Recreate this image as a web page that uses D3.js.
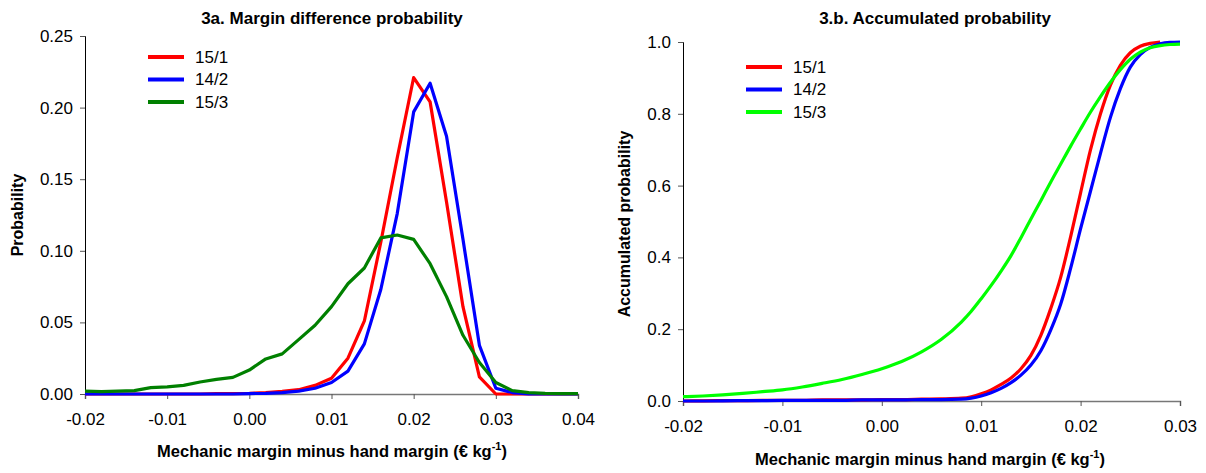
<!DOCTYPE html>
<html>
<head>
<meta charset="utf-8">
<script src="https://cdn.jsdelivr.net/npm/d3@7"></script>
<style>
  body { margin: 0; background: #fff; }
  text { font-family: "Liberation Sans", Arial, sans-serif; fill: #000; }
</style>
</head>
<body>
<div id="plot"></div>
<script>
// series names
var seriesNames = ["15/1", "14/2", "15/3"];

// 3a: probability per margin difference class
var pdfX = [-0.02, -0.018, -0.016, -0.014, -0.012, -0.01, -0.008, -0.006, -0.004, -0.002,
            0, 0.002, 0.004, 0.006, 0.008, 0.01, 0.012, 0.014, 0.016, 0.018,
            0.02, 0.022, 0.024, 0.026, 0.028, 0.03, 0.032, 0.034, 0.036, 0.038, 0.04];
var pdf151 = [0, 0, 0, 0, 0, 0, 0, 0, 0.0003, 0.0003,
              0.0005, 0.001, 0.0018, 0.003, 0.006, 0.011, 0.025, 0.051, 0.106, 0.165,
              0.221, 0.204, 0.134, 0.061, 0.012, 0, 0, 0, 0, 0, 0];
var pdf142 = [0, 0, 0, 0, 0, 0, 0, 0, 0, 0,
              0.0003, 0.0005, 0.001, 0.002, 0.004, 0.008, 0.016, 0.035, 0.073, 0.126,
              0.197, 0.217, 0.18, 0.108, 0.034, 0.004, 0.001, 0, 0, 0, 0];
var pdf153 = [0.002, 0.0017, 0.002, 0.0024, 0.0044, 0.005, 0.006, 0.0084, 0.0102, 0.0116,
              0.0167, 0.0245, 0.028, 0.038, 0.048, 0.061, 0.077, 0.088, 0.109, 0.111,
              0.108, 0.091, 0.068, 0.041, 0.022, 0.008, 0.0024, 0.001, 0.0005, 0.0003, 0.0003];

// 3b: accumulated probability
var cdfX = [-0.02, -0.018, -0.016, -0.014, -0.012, -0.01, -0.008, -0.006, -0.004, -0.002,
            0, 0.002, 0.004, 0.006, 0.008, 0.009, 0.01, 0.011, 0.012, 0.013,
            0.014, 0.015, 0.016, 0.017, 0.018, 0.019, 0.02, 0.021, 0.022, 0.023,
            0.024, 0.025, 0.026, 0.027, 0.028, 0.029, 0.03];
var cdf151 = [0, 0.0005, 0.001, 0.001, 0.0015, 0.002, 0.002, 0.003, 0.003, 0.003,
              0.004, 0.004, 0.005, 0.006, 0.008, 0.012, 0.02, 0.031, 0.046, 0.064,
              0.09, 0.127, 0.183, 0.258, 0.345, 0.458, 0.58, 0.7, 0.8, 0.88,
              0.935, 0.97, 0.988, 0.996, 1.0, null, null];
var cdf142 = [0, 0, 0.0005, 0.001, 0.001, 0.0015, 0.002, 0.002, 0.002, 0.003,
              0.003, 0.003, 0.004, 0.004, 0.005, 0.008, 0.014, 0.023, 0.035, 0.051,
              0.072, 0.1, 0.14, 0.198, 0.27, 0.37, 0.48, 0.585, 0.69, 0.79,
              0.87, 0.93, 0.965, 0.985, 0.995, 0.999, 1.0];
var cdf153 = [0.012, 0.014, 0.017, 0.021, 0.026, 0.031, 0.039, 0.049, 0.06, 0.074,
              0.09, 0.11, 0.137, 0.172, 0.22, 0.25, 0.285, 0.322, 0.362, 0.405,
              0.455, 0.507, 0.558, 0.61, 0.66, 0.71, 0.758, 0.805, 0.848, 0.888,
              0.923, 0.952, 0.972, 0.984, 0.99, 0.993, 0.994];

var xTicksA = [-0.02, -0.01, 0, 0.01, 0.02, 0.03, 0.04];
var yTicksA = [0, 0.05, 0.1, 0.15, 0.2, 0.25];
var xTicksB = [-0.02, -0.01, 0, 0.01, 0.02, 0.03];
var yTicksB = [0, 0.2, 0.4, 0.6, 0.8, 1.0];

var svg = d3.select("div#plot").append("svg")
    .attr("width", 1206)
    .attr("height", 473);

// plain hyphen for negatives, like the original
function fmt(spec) {
  var f = d3.format(spec);
  return function(d) { return f(d).replace("\u2212", "-"); };
}

function drawPanel(p) {
  var x = d3.scaleLinear().domain(p.xDomain).range([p.left, p.right]);
  var y = d3.scaleLinear().domain(p.yDomain).range([p.bottom, p.top]);
  var g = svg.append("g");

  // axes
  var xAxis = g.append("g")
      .attr("transform", "translate(0," + p.bottom + ")")
      .call(d3.axisBottom(x).tickValues(p.xTicks).tickFormat(fmt(".2f")).tickSizeOuter(0).tickSize(5).tickPadding(14));
  xAxis.select(".domain").attr("stroke", "#777").attr("stroke-width", 1.5);
  xAxis.selectAll(".tick line").attr("stroke", "#555");
  xAxis.selectAll("text").style("font-size", "17px");

  var yAxis = g.append("g")
      .attr("transform", "translate(" + p.left + ",0)")
      .call(d3.axisLeft(y).tickValues(p.yTicks).tickFormat(fmt(p.yFormat)).tickSizeOuter(0).tickSize(5).tickPadding(7));
  yAxis.select(".domain").attr("stroke", "#000");
  yAxis.selectAll(".tick line").attr("stroke", "#555");
  yAxis.selectAll("text").style("font-size", "17px");

  // lines
  var line = d3.line()
      .defined(function(d) { return d[1] !== null; })
      .x(function(d) { return x(d[0]); })
      .y(function(d) { return y(d[1]); })
      .curve(p.curve);

  p.series.forEach(function(s, i) {
    var pts = p.xs.map(function(v, j) { return [v, s[j]]; });
    g.append("path")
        .datum(pts)
        .attr("fill", "none")
        .attr("stroke", p.colors[i])
        .attr("stroke-width", 3.2)
        .attr("stroke-linejoin", "round")
        .attr("d", line);
  });

  // legend
  var legend = g.selectAll(".legend")
      .data(seriesNames)
      .enter().append("g")
      .attr("transform", function(d, i) { return "translate(" + p.legX + "," + (p.legY + i * 22.5) + ")"; });
  legend.append("line")
      .attr("x1", 0).attr("x2", 36)
      .attr("stroke", function(d, i) { return p.colors[i]; })
      .attr("stroke-width", 4);
  legend.append("text")
      .attr("x", 47)
      .attr("dy", "0.35em")
      .style("font-size", "17px")
      .text(function(d) { return d; });

  // title
  g.append("text")
      .attr("x", p.titleX)
      .attr("y", 24)
      .attr("text-anchor", "middle")
      .style("font-size", "17px")
      .style("font-weight", "bold")
      .text(p.title);

  // x axis title
  var xt = g.append("text")
      .attr("x", p.xTitleX)
      .attr("y", p.xTitleY)
      .attr("text-anchor", "middle")
      .style("font-size", "16.5px")
      .style("font-weight", "bold");
  xt.append("tspan").text("Mechanic margin minus hand margin (€ kg");
  xt.append("tspan").attr("dy", "-7").style("font-size", "11px").text("-1");
  xt.append("tspan").attr("dy", "7").text(")");

  // y axis title
  g.append("text")
      .attr("transform", "translate(" + p.yTitleX + "," + p.yTitleY + ") rotate(-90)")
      .attr("text-anchor", "middle")
      .style("font-size", "16px")
      .style("font-weight", "bold")
      .text(p.yTitle);
}

drawPanel({
  xDomain: [-0.02, 0.04], yDomain: [0, 0.25],
  left: 85, right: 578, top: 36, bottom: 394,
  xTicks: xTicksA, yTicks: yTicksA, yFormat: ".2f",
  xs: pdfX, series: [pdf151, pdf142, pdf153],
  colors: ["#ff0000", "#0000ff", "#008000"],
  curve: d3.curveLinear,
  legX: 148, legY: 57,
  title: "3a. Margin difference probability", titleX: 332,
  xTitleX: 332, xTitleY: 457,
  yTitle: "Probability", yTitleX: 23, yTitleY: 215
});

drawPanel({
  xDomain: [-0.02, 0.03], yDomain: [0, 1],
  left: 683, right: 1180, top: 42, bottom: 401,
  xTicks: xTicksB, yTicks: yTicksB, yFormat: ".1f",
  xs: cdfX, series: [cdf151, cdf142, cdf153],
  colors: ["#ff0000", "#0000ff", "#00ff00"],
  curve: d3.curveMonotoneX,
  legX: 746, legY: 67,
  title: "3.b. Accumulated probability", titleX: 935,
  xTitleX: 930, xTitleY: 465,
  yTitle: "Accumulated probability", yTitleX: 630, yTitleY: 224
});
</script>
</body>
</html>
